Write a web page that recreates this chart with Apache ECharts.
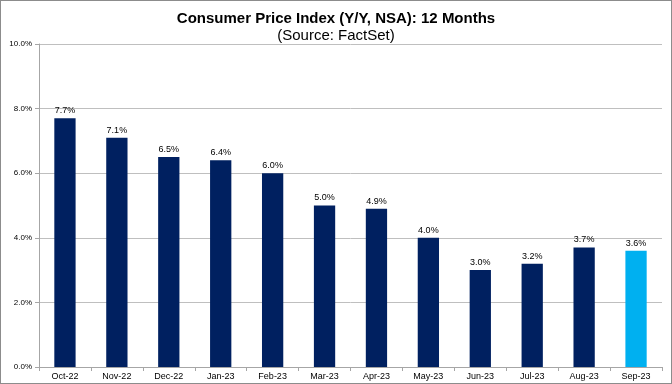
<!DOCTYPE html>
<html><head><meta charset="utf-8">
<script src="https://cdn.jsdelivr.net/npm/echarts@6/dist/echarts.min.js"></script>
<style>html,body{margin:0;padding:0;background:#fff}#c{width:672px;height:384px;box-sizing:border-box;border:1px solid #8c8c8c}</style>
</head><body><div id="c"></div>
<script>
const categories = ['Oct-22','Nov-22','Dec-22','Jan-23','Feb-23','Mar-23','Apr-23','May-23','Jun-23','Jul-23','Aug-23','Sep-23'];
const cpiValues = [7.7, 7.1, 6.5, 6.4, 6.0, 5.0, 4.9, 4.0, 3.0, 3.2, 3.7, 3.6];
const barColors = ['#002060','#002060','#002060','#002060','#002060','#002060','#002060','#002060','#002060','#002060','#002060','#00B0F0'];

const chart = echarts.init(document.getElementById('c'));
chart.setOption({
  animation: false,
  title: {
    text: 'Consumer Price Index (Y/Y, NSA): 12 Months',
    subtext: '(Source: FactSet)',
    left: 'center', top: 5, itemGap: 1,
    textStyle: {fontFamily: 'Liberation Sans, Arial', fontWeight: 'bold', fontSize: 15, color: '#000', lineHeight: 16},
    subtextStyle: {fontFamily: 'Liberation Sans, Arial', fontSize: 15, color: '#000', lineHeight: 16}
  },
  grid: {left: 38, right: 9, top: 43, bottom: 16, containLabel: false},
  xAxis: {
    type: 'category', data: categories,
    axisLine: {lineStyle: {color: '#a6a6a6'}},
    axisTick: {show: true, length: 4, lineStyle: {color: '#a6a6a6'}},
    axisLabel: {fontFamily: 'Liberation Sans, Arial', fontSize: 9, color: '#000', margin: 5, interval: 0}
  },
  yAxis: {
    type: 'value', min: 0, max: 10, interval: 2,
    axisLine: {show: true, lineStyle: {color: '#a6a6a6'}},
    axisTick: {show: true, length: 4, lineStyle: {color: '#a6a6a6'}},
    splitLine: {lineStyle: {color: '#bfbfbf'}},
    axisLabel: {fontFamily: 'Liberation Sans, Arial', fontSize: 8, color: '#000', margin: 7,
      formatter: v => v.toFixed(1) + '%'}
  },
  series: [{
    type: 'bar', barWidth: '41%',
    data: cpiValues.map((v, i) => ({value: v, itemStyle: {color: barColors[i]}})),
    label: {show: true, position: 'top', distance: 3, fontFamily: 'Liberation Sans, Arial', fontSize: 9, color: '#000',
      formatter: p => p.value.toFixed(1) + '%'}
  }]
});
</script></body></html>
